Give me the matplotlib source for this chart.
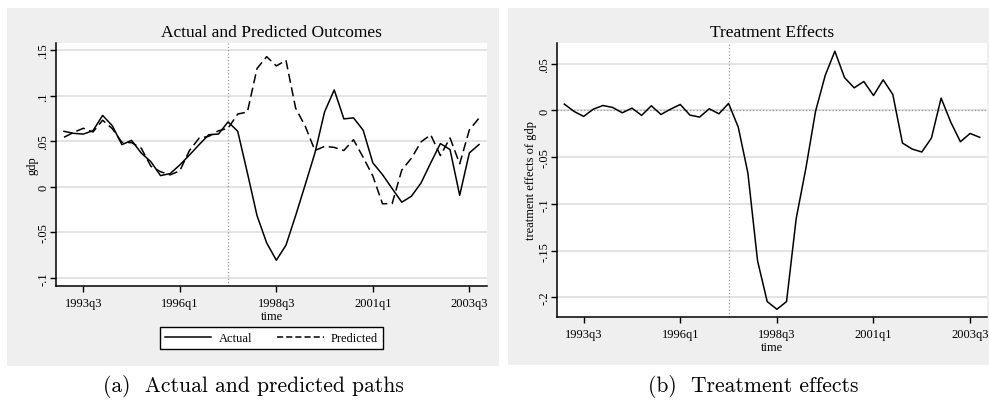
import numpy as np
import pandas as pd
import matplotlib
matplotlib.use("Agg")
import matplotlib.pyplot as plt
from matplotlib.patches import Rectangle
from matplotlib.lines import Line2D

# quarters 1993q1 .. 2003q4
periodos = pd.period_range("1993Q1", "2003Q4", freq="Q")
etiquetas_x = ["1993q3", "1996q1", "1998q3", "2001q1", "2003q3"]
pos_x = [2, 12, 22, 32, 42]
t_tratamiento = 17  # 1997q2

actual = [0.061, 0.0588, 0.058, 0.0617, 0.0785, 0.0672, 0.0464, 0.0511, 0.0372,
          0.0277, 0.0124, 0.0146, 0.0241, 0.035, 0.0464, 0.0573, 0.058, 0.0714,
          0.0611, 0.0154, -0.0315, -0.0615, -0.0805, -0.064, -0.0315, 0.0026,
          0.0373, 0.0824, 0.1065, 0.0747, 0.0758, 0.0622, 0.0264, 0.0135,
          -0.0018, -0.0168, -0.0102, 0.0044, 0.0264, 0.0476, 0.041, -0.0092,
          0.0373, 0.0465]

predicho = [0.0545, 0.0598, 0.0644, 0.0603, 0.0732, 0.064, 0.0489, 0.0486, 0.0425,
            0.0227, 0.0167, 0.0132, 0.0177, 0.040, 0.0535, 0.0555, 0.0616, 0.0644,
            0.080, 0.0822, 0.130, 0.143, 0.1328, 0.139, 0.0865, 0.0665,
            0.040, 0.0445, 0.0434, 0.040, 0.0518, 0.0325, 0.012, -0.0185,
            -0.0183, 0.0186, 0.0315, 0.0495, 0.0572, 0.0344, 0.0537, 0.0254,
            0.0625, 0.0755]

efecto = [0.0068, -0.001, -0.0064, 0.0014, 0.0053, 0.0032, -0.0025, 0.0025, -0.0053,
          0.005, -0.0043, 0.0014, 0.0064, -0.005, -0.0071, 0.0018, -0.0036, 0.0075,
          -0.0178, -0.067, -0.161, -0.2046, -0.2128, -0.2046, -0.1157, -0.062,
          -0.001, 0.0374, 0.0634, 0.0352, 0.0242, 0.031, 0.016, 0.0328,
          0.0171, -0.0349, -0.0413, -0.0445, -0.0295, 0.0132, -0.0125, -0.0335,
          -0.0246, -0.0288]

ticks_a = [-0.1, -0.05, 0, 0.05, 0.1, 0.15]
etiq_a = ["-.1", "-.05", "0", ".05", ".1", ".15"]
ticks_b = [-0.2, -0.15, -0.1, -0.05, 0, 0.05]
etiq_b = ["-.2", "-.15", "-.1", "-.05", "0", ".05"]

x = np.arange(len(periodos))

plt.rcParams['font.family'] = ['Liberation Serif', 'DejaVu Serif']
W, H = 989, 402
fig = plt.figure(figsize=(W / 100, H / 100), dpi=100)
gris = '#efefef'


def caja(x0, y0, x1, y1):
    # rectangulo en pixeles (desde arriba)
    return [x0 / W, 1 - y1 / H, (x1 - x0) / W, (y1 - y0) / H]


for (x0, y0, x1, y1) in [(7, 9, 499, 367), (508, 9, 995, 366)]:
    r = caja(x0, y0, x1, y1)
    fig.patches.append(Rectangle((r[0], r[1]), r[2], r[3], transform=fig.transFigure,
                                 facecolor=gris, edgecolor='none', zorder=-10))


def estilo(ax, ticks, etiq, ylim, xlim, titulo, ylab, labelpad):
    ax.set_facecolor('white')
    for s in ['top', 'right']:
        ax.spines[s].set_visible(False)
    for s in ['left', 'bottom']:
        ax.spines[s].set_linewidth(1.1)
        ax.spines[s].set_color('black')
    ax.set_ylim(*ylim)
    ax.set_xlim(*xlim)
    ax.set_yticks(ticks)
    ax.set_yticklabels(etiq, rotation=90, va='center', fontsize=9)
    ax.set_xticks(pos_x)
    ax.set_xticklabels(etiquetas_x, fontsize=9)
    ax.tick_params(direction='out', length=4, width=1, pad=1)
    ax.tick_params(axis='x', pad=4)
    ax.grid(axis='y', color='#e3e3e3', linewidth=1.4)
    ax.set_axisbelow(True)
    ax.axvline(t_tratamiento, color='#999999', linestyle=':', linewidth=0.9, zorder=1)
    ax.set_xlabel('time', fontsize=9, labelpad=1)
    ax.set_ylabel(ylab, fontsize=9, labelpad=labelpad)
    ax.set_title(titulo, fontsize=12.5, pad=5)


# ============ Panel (a) ============
ax1 = fig.add_axes(caja(56, 44, 487, 287))
ax1.plot(x, actual, color='black', linewidth=1.1, label='Actual')
ax1.plot(x, predicho, color='black', linewidth=1.1, dashes=(6, 3), label='Predicted')
estilo(ax1, ticks_a, etiq_a, (-0.1088, 0.158), (-0.83, 43.83),
       'Actual and Predicted Outcomes', 'gdp', -1)

handles = [Line2D([], [], color='black', linewidth=1.1),
           Line2D([], [], color='black', linewidth=1.1, dashes=(4, 2))]
leg = fig.legend(handles, ['Actual', 'Predicted'], loc='center',
                 bbox_to_anchor=(271.7 / W, 1 - 339 / H), ncol=2, fontsize=9,
                 frameon=True, fancybox=False, edgecolor='black', framealpha=1,
                 handlelength=3.7, handletextpad=0.6, columnspacing=2.0,
                 borderpad=0.4)
leg.get_frame().set_linewidth(1.0)

# ============ Panel (b) ============
ax2 = fig.add_axes(caja(557, 44, 987, 318))
ax2.plot(x, efecto, color='black', linewidth=1.1)
ax2.axhline(0, color='#999999', linestyle=':', linewidth=0.9, zorder=1)
estilo(ax2, ticks_b, etiq_b, (-0.2211, 0.0722), (-0.76, 43.75),
       'Treatment Effects', 'treatment effects of gdp', 1)

# subtitulos tipo LaTeX
fig.text(253 / W, 1 - 387 / H, '(a)  Actual and predicted paths', family='cmr10',
         fontsize=15.5, ha='center', va='center')
fig.text(753 / W, 1 - 387 / H, '(b)  Treatment effects', family='cmr10',
         fontsize=15.5, ha='center', va='center')

plt.savefig('out.png', dpi=100)
plt.close()
